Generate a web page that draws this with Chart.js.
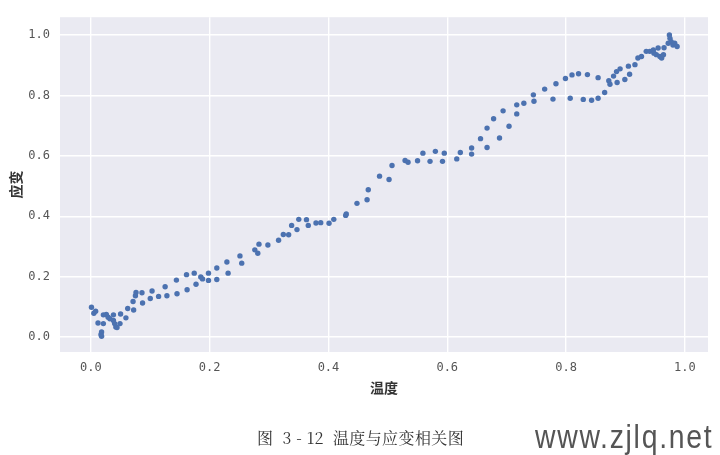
<!DOCTYPE html>
<html>
<head>
<meta charset="utf-8">
<script src="https://cdn.jsdelivr.net/npm/chart.js@4/dist/chart.umd.min.js"></script>
<style>
  html, body { margin: 0; padding: 0; background: #fff; }
  #wrap { position: relative; width: 720px; height: 455px; }
  #caption {
    position: absolute; left: 257px; top: 426px; white-space: nowrap;
    font-family: "Noto Serif CJK SC", "Noto Sans CJK SC", serif;
    font-size: 16px; color: #333; letter-spacing: 0.4px;
  }
  #mark {
    position: absolute; left: 535px; top: 418px; white-space: nowrap;
    font-family: "Liberation Sans Narrow", "Liberation Sans", sans-serif;
    font-size: 33px; color: #555; letter-spacing: 2px;
    transform: scaleX(0.86); transform-origin: left top;
  }
</style>
</head>
<body>
<div id="wrap">
  <canvas id="chart" width="720" height="455"></canvas>
  <div id="caption">图 &nbsp;3 - 12 &nbsp;温度与应变相关图</div>
  <div id="mark">www.zjlq.net</div>
</div>
<script>
// 温度 (x) and 应变 (y)
const temperature = [
  0.001, 0.005, 0.008, 0.012, 0.018, 0.017, 0.018, 0.021, 0.021, 0.026,
  0.029, 0.032, 0.038, 0.038, 0.040, 0.042, 0.044, 0.049, 0.050, 0.059,
  0.062, 0.071, 0.072, 0.075, 0.076, 0.086, 0.087, 0.100, 0.103, 0.114,
  0.125, 0.128, 0.144, 0.145, 0.161, 0.162, 0.174, 0.177, 0.185, 0.188,
  0.198, 0.198, 0.212, 0.212, 0.229, 0.231, 0.251, 0.254, 0.276, 0.281,
  0.283, 0.298, 0.316, 0.324, 0.333, 0.338, 0.347, 0.350, 0.363, 0.366,
  0.379, 0.387, 0.401, 0.409, 0.429, 0.430, 0.448, 0.465, 0.467, 0.486,
  0.502, 0.507, 0.529, 0.534, 0.550, 0.559, 0.571, 0.580, 0.592, 0.595,
  0.616, 0.622, 0.641, 0.641, 0.656, 0.667, 0.667, 0.678, 0.688, 0.694,
  0.704, 0.717, 0.717, 0.729, 0.745, 0.746, 0.764, 0.778, 0.783, 0.799,
  0.807, 0.810, 0.821, 0.829, 0.836, 0.843, 0.854, 0.854, 0.865, 0.872,
  0.874, 0.880, 0.885, 0.886, 0.891, 0.899, 0.905, 0.907, 0.916, 0.921,
  0.927, 0.935, 0.941, 0.947, 0.948, 0.952, 0.955, 0.958, 0.961, 0.964,
  0.965, 0.972, 0.974, 0.975, 0.977, 0.980, 0.983, 0.987
];
const strain = [
  0.099, 0.079, 0.086, 0.047, 0.017, 0.009, 0.003, 0.045, 0.074, 0.075,
  0.066, 0.061, 0.074, 0.055, 0.045, 0.034, 0.032, 0.045, 0.077, 0.064,
  0.095, 0.118, 0.090, 0.137, 0.148, 0.147, 0.113, 0.128, 0.153, 0.135,
  0.167, 0.137, 0.189, 0.144, 0.207, 0.157, 0.212, 0.175, 0.199, 0.193,
  0.212, 0.188, 0.229, 0.191, 0.249, 0.212, 0.269, 0.245, 0.289, 0.278,
  0.308, 0.305, 0.321, 0.340, 0.339, 0.370, 0.356, 0.390, 0.389, 0.370,
  0.378, 0.379, 0.377, 0.390, 0.403, 0.408, 0.443, 0.455, 0.488, 0.533,
  0.522, 0.568, 0.585, 0.579, 0.584, 0.609, 0.582, 0.615, 0.582, 0.609,
  0.590, 0.611, 0.626, 0.606, 0.657, 0.628, 0.692, 0.723, 0.659, 0.749,
  0.698, 0.769, 0.739, 0.774, 0.802, 0.781, 0.821, 0.788, 0.839, 0.856,
  0.791, 0.868, 0.872, 0.787, 0.869, 0.784, 0.859, 0.791, 0.810, 0.849,
  0.837, 0.864, 0.879, 0.843, 0.888, 0.853, 0.897, 0.870, 0.902, 0.924,
  0.929, 0.946, 0.946, 0.951, 0.940, 0.935, 0.957, 0.929, 0.924, 0.935,
  0.958, 0.973, 1.000, 0.989, 0.978, 0.967, 0.973, 0.962
];
const tickValues = [0.0, 0.2, 0.4, 0.6, 0.8, 1.0];
const xTitle = '温度';
const yTitle = '应变';

const points = temperature.map((t, i) => ({x: t, y: strain[i]}));

// seaborn-like grey panel behind the grid
const panelBg = {
  id: 'panelBg',
  beforeDraw(chart) {
    const {ctx, chartArea: a} = chart;
    ctx.save();
    ctx.fillStyle = '#EAEAF2';
    ctx.fillRect(a.left, a.top, a.right - a.left, a.bottom - a.top);
    ctx.restore();
  }
};

const tickFont = {family: '"DejaVu Sans Mono", monospace', size: 12};
const titleFont = {family: '"Noto Sans CJK SC", sans-serif', size: 14, weight: 'bold'};

new Chart(document.getElementById('chart'), {
  type: 'scatter',
  data: {
    datasets: [{
      data: points,
      backgroundColor: '#4C72B0',
      borderWidth: 0,
      pointRadius: 2.7,
      pointHoverRadius: 2.7
    }]
  },
  options: {
    responsive: false,
    animation: false,
    layout: {padding: {left: 0, top: 12, right: 12, bottom: 55}},
    plugins: {legend: {display: false}, tooltip: {enabled: false}},
    scales: {
      x: {
        min: -0.052, max: 1.039,
        afterFit: s => { s.height = 48; },
        afterBuildTicks: s => { s.ticks = tickValues.map(v => ({value: v})); },
        ticks: {
          padding: 9, color: '#555', font: tickFont,
          callback: v => v.toFixed(1)
        },
        grid: {color: '#fff', lineWidth: 1.4, drawTicks: false},
        border: {display: false},
        title: {display: true, text: xTitle, color: '#333', font: titleFont, padding: {top: 0, bottom: 4}}
      },
      y: {
        min: -0.049, max: 1.059,
        afterFit: s => { s.width = 60; },
        afterBuildTicks: s => { s.ticks = tickValues.map(v => ({value: v})); },
        ticks: {
          padding: 10, color: '#555', font: tickFont,
          callback: v => v.toFixed(1)
        },
        grid: {color: '#fff', lineWidth: 1.4, drawTicks: false},
        border: {display: false},
        title: {display: true, text: yTitle, color: '#333', font: titleFont, padding: {top: 7, bottom: 0}}
      }
    }
  },
  plugins: [panelBg]
});
</script>
</body>
</html>
